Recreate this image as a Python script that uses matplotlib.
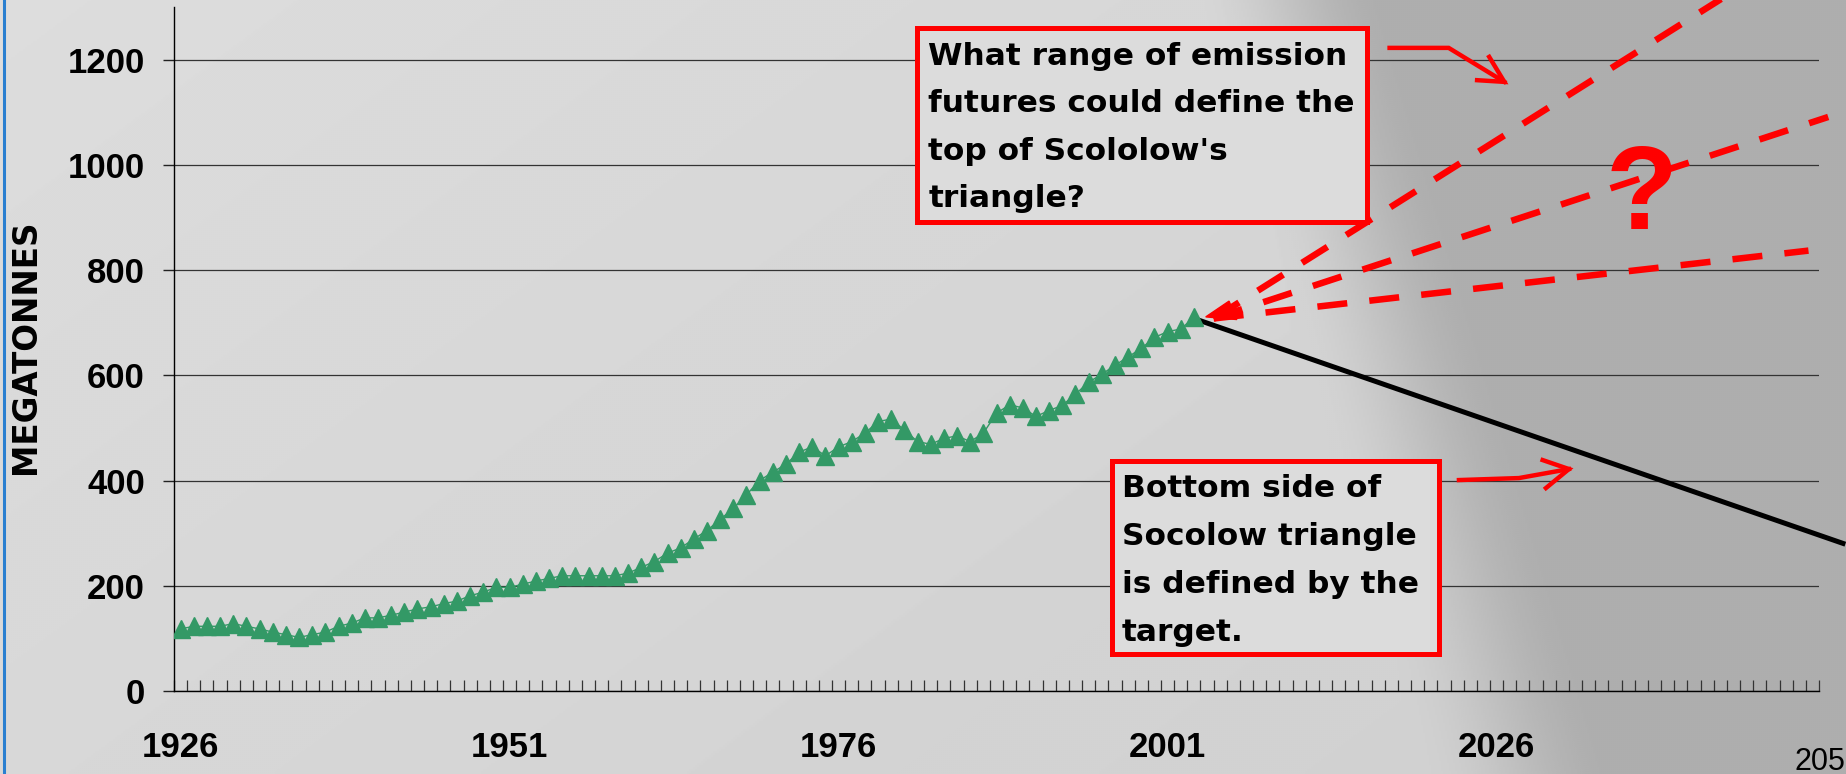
import numpy as np
import matplotlib
matplotlib.use('Agg')
import matplotlib.pyplot as plt
from matplotlib.patches import Rectangle, Polygon
from matplotlib.lines import Line2D

# ---------------- data ----------------
years = list(range(1926, 2004))
emissions = [118, 123, 123, 123, 128, 123, 118, 112, 107, 102,
             107, 112, 123, 129, 139, 139, 144, 150, 156, 160,
             166, 171, 181, 188, 197, 197, 203, 209, 214, 219,
             219, 219, 219, 219, 224, 235, 246, 262, 272, 289,
             305, 326, 347, 373, 400, 416, 431, 454, 464, 447,
             464, 474, 490, 512, 517, 496, 474, 469, 480, 485,
             474, 490, 528, 544, 538, 522, 533, 543, 564, 587,
             602, 619, 635, 651, 672, 683, 688, 710]

xtick_years = [1926, 1951, 1976, 2001, 2026]
ytick_values = [0, 200, 400, 600, 800, 1000, 1200]

# target (bottom side of triangle)
target_years = [2003, 2052.5]
target_values = [708, 279]

# possible emission futures (top of triangle)
future_start_year = 2004.5
future_start_value = 708
future_end_years = [2044.0, 2051.2, 2049.7]
future_end_values = [1330, 1091, 837]

# arrow-head wedge at the start of the futures
wedge_years = [2003.9, 2005.67, 2006.26]
wedge_values = [711, 741, 706]

# callout arrows
arrow1_years = [2017.87, 2022.36, 2026.59]
arrow1_values = [1222.3, 1222.3, 1157.7]
arrow1_head_years = [2024.52, 2026.59, 2025.44]
arrow1_head_values = [1160.9, 1157.7, 1205.2]
arrow2_years = [2023.14, 2027.7, 2031.5]
arrow2_values = [400.9, 404.7, 421.8]
arrow2_head_years = [2029.5, 2031.5, 2029.75]
arrow2_head_values = [438.9, 421.8, 385.7]

box1_lines = ["What range of emission", "futures could define the",
              "top of Scololow's", "triangle?"]
box2_lines = ["Bottom side of", "Socolow triangle",
              "is defined by the", "target."]

# ---------------- figure ----------------
W, H = 1846, 774
fig = plt.figure(figsize=(W / 100, H / 100), dpi=100)

# background: light grey on the left, darker grey on the right
bg = fig.add_axes([0, 0, 1, 1], zorder=-10)
yy, xx = np.mgrid[0:H:2, 0:W:2]
boundary = 1290 + 230 * (yy / H)
t = np.clip((xx - boundary) / 200 + 0.5, 0, 1)
t = t * t * (3 - 2 * t)
light = 0.865 - 0.035 * (xx / W) - 0.02 * (yy / H)
val = light * (1 - t) + 0.68 * t
bg.imshow(val, cmap='gray', vmin=0, vmax=1, extent=[0, W, H, 0], aspect='auto',
          interpolation='bilinear')
bg.set_xlim(0, W)
bg.set_ylim(H, 0)
bg.axis('off')

# left blue border
fig.add_artist(Line2D([3.5 / W, 3.5 / W], [0, 1], color='#2a7fd0', lw=2.2,
                      transform=fig.transFigure))

ax = fig.add_axes([174 / W, 1 - 691 / H, 1645 / W, 684 / H])
ax.set_facecolor('none')
ax.set_xlim(1925.5, 2050.5)
ax.set_ylim(0, 1300)

tickfont = dict(family='Liberation Sans', weight='bold', size=25)

ax.set_yticks(ytick_values)
ax.set_yticklabels([str(v) for v in ytick_values], fontdict=tickfont)
ax.set_xticks(xtick_years)
ax.set_xticklabels([str(v) for v in xtick_years], fontdict=tickfont)
ax.set_xticks(np.arange(1925.5, 2051, 1), minor=True)
ax.tick_params(axis='x', which='major', length=0, pad=28.5)
ax.tick_params(axis='x', which='minor', direction='in', length=8,
               width=0.9, color='#333333')
ax.tick_params(axis='y', which='major', direction='out', length=8,
               width=1.0, color='#222222', pad=13)

ax.yaxis.grid(True, color='#333333', lw=0.9)
ax.set_axisbelow(True)
for s in ['top', 'right']:
    ax.spines[s].set_visible(False)
for s in ['left', 'bottom']:
    ax.spines[s].set_color('black')
    ax.spines[s].set_linewidth(1.0)

# emissions series
ax.plot(years, emissions, color='#339966', lw=1, marker='^', ms=13.5,
        mec='#339966', mfc='#339966', zorder=4)

# target line
ax.plot(target_years, target_values, color='black', lw=3.6,
        solid_capstyle='butt', clip_on=False, zorder=3)

# futures
for ey, ev in zip(future_end_years, future_end_values):
    ax.plot([future_start_year, ey], [future_start_value, ev], color='#ff0000',
            lw=4.7, dashes=(4.6, 3.4), dash_capstyle='butt',
            clip_on=False, zorder=3)
ax.add_patch(Polygon(list(zip(wedge_years, wedge_values)), closed=True,
                     color='#ff0000', clip_on=False, zorder=3))

# callout arrows
for xs, ys in [(arrow1_years, arrow1_values), (arrow1_head_years, arrow1_head_values),
               (arrow2_years, arrow2_values), (arrow2_head_years, arrow2_head_values)]:
    ax.plot(xs, ys, color='#ff0000', lw=3.2, solid_joinstyle='miter',
            clip_on=False, zorder=5)

# question mark
ax.text(2037.0, 878, '?', color='#ff0000', fontsize=85,
        family='Liberation Sans', weight='bold', ha='center', va='baseline',
        zorder=5)

# callout boxes
ax.add_patch(Rectangle((1981.96, 891.1), 2016.14 - 1981.96, 1260.7 - 891.1,
                       facecolor='#dcdcdc', edgecolor='#ff0000', lw=3.6,
                       clip_on=False, zorder=6))
ax.add_patch(Rectangle((1996.78, 71.25), 2021.62 - 1996.78, 437.96 - 71.25,
                       facecolor='#dcdcdc', edgecolor='#ff0000', lw=3.6,
                       clip_on=False, zorder=6))

boxfont = dict(family='DejaVu Sans', weight='bold', size=22.5, color='black')
for i, line in enumerate(box1_lines):
    fig.text(928.3 / W, 1 - (65 + i * 47.3) / H, line, va='baseline', ha='left',
             zorder=7, **boxfont)
for i, line in enumerate(box2_lines):
    fig.text(1122 / W, 1 - (497.3 + i * 47.8) / H, line, va='baseline', ha='left',
             zorder=7, **boxfont)

# y-axis title
fig.text(26 / W, 1 - 347 / H, 'MEGATONNES', rotation=90, ha='center', va='center',
         family='DejaVu Sans', weight='bold', size=23.5)

# cut-off label at bottom right (only "205" is visible in the reference)
fig.text(1794 / W, 1 - 770 / H, '205', ha='left', va='baseline',
         family='Liberation Sans', size=22)

fig.savefig('out.png', dpi=100)
